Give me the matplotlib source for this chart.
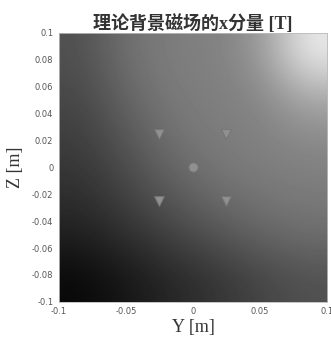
import matplotlib
matplotlib.use("Agg")
import matplotlib.pyplot as plt
import numpy as np

# 背景场灰度 (0-255)，按行从上 (z=0.1) 到下 (z=-0.1)，列从 y=-0.1 到 0.1
grid_y = [-0.1, -0.06, -0.02, 0.02, 0.06, 0.1]
grid_z = [0.1, 0.06, 0.02, -0.02, -0.06, -0.1]
gray_levels = [
    [80, 112, 126, 128, 150, 235],
    [70, 100, 122, 126, 132, 165],
    [60, 84, 110, 124, 128, 134],
    [48, 68, 92, 110, 120, 124],
    [32, 48, 66, 84, 100, 110],
    [8, 22, 38, 52, 68, 80],
]

sensor_y = [-0.025, 0.025, -0.025, 0.025]
sensor_z = [0.025, 0.025, -0.025, -0.025]
center_y = [0.0]
center_z = [0.0]

xticks = [-0.1, -0.05, 0, 0.05, 0.1]
xtick_labels = ["-0.1", "-0.05", "0", "0.05", "0.1"]
yticks = [0.1, 0.08, 0.06, 0.04, 0.02, 0, -0.02, -0.04, -0.06, -0.08, -0.1]
ytick_labels = ["0.1", "0.08", "0.06", "0.04", "0.02", "0", "-0.02", "-0.04", "-0.06", "-0.08", "-0.1"]

serif_cjk = ["Liberation Serif", "Noto Sans CJK SC"]

fig = plt.figure(figsize=(3.31, 3.47), dpi=100)
ax = fig.add_axes([0.178, 0.130, 0.810, 0.775])

img = np.array(gray_levels, dtype=float) / 255.0
ax.imshow(img, cmap="gray", vmin=0, vmax=1, origin="upper",
          extent=[grid_y[0], grid_y[-1], grid_z[-1], grid_z[0]],
          interpolation="bicubic", aspect="auto")

ax.scatter(sensor_y, sensor_z, marker="v", s=50, color="#909090",
           edgecolors="#757575", linewidths=0.7, zorder=3)
ax.scatter(center_y, center_z, marker="o", s=45, color="#909090",
           edgecolors="#757575", linewidths=0.7, zorder=3)

ax.set_xlim(-0.1, 0.1)
ax.set_ylim(-0.1, 0.1)
ax.set_xticks(xticks)
ax.set_xticklabels(xtick_labels)
ax.set_yticks(yticks)
ax.set_yticklabels(ytick_labels)
ax.tick_params(length=0, labelsize=6, colors="#555555", pad=4)
for sp in ax.spines.values():
    sp.set_color("#bbbbbb")
    sp.set_linewidth(0.6)

ax.set_title("理论背景磁场的x分量 [T]", family=serif_cjk, fontsize=13,
             fontweight="bold", color="#333333", pad=2)
ax.set_xlabel("Y [m]", family=serif_cjk, fontsize=13, color="#333333", labelpad=2)
ax.set_ylabel("Z [m]", family=serif_cjk, fontsize=13, color="#333333", labelpad=6)

fig.savefig("out.png", dpi=100)
